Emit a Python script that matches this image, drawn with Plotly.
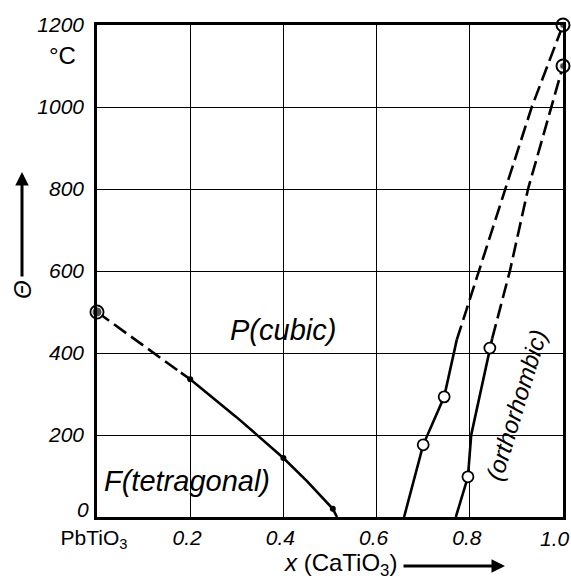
import plotly.graph_objects as go

# ---- data ----
# Curie line PbTiO3 side (F tetragonal / P cubic)
c1_dash_x = [0.0, 0.18]
c1_dash_t = [500, 352]
c1_solid_x = [0.18, 0.2, 0.3, 0.4, 0.45, 0.506, 0.515]
c1_solid_t = [352, 336, 243, 144, 88, 20, 0]
c1_pts_x = [0.2, 0.4, 0.506]
c1_pts_t = [336, 144, 20]

# left boundary of the orthorhombic two-phase region
c2_solid_x = [0.659, 0.700, 0.745, 0.764, 0.772]
c2_solid_t = [0, 176, 293, 395, 432]
c2_dash_x = [0.772, 0.820, 0.876, 0.933, 1.0]
c2_dash_t = [432, 600, 800, 1000, 1200]
c2_pts_x = [0.700, 0.745]
c2_pts_t = [176, 293]

# right boundary
c3_solid_x = [0.770, 0.796, 0.803, 0.843, 0.848]
c3_solid_t = [0, 98, 200, 412, 435]
c3_dash_x = [0.848, 0.886, 0.925, 0.975, 1.0]
c3_dash_t = [435, 600, 800, 1000, 1100]
c3_pts_x = [0.796, 0.843]
c3_pts_t = [98, 412]

# end points (pure compounds)
end_x = [0.0, 1.0, 1.0]
end_t = [500, 1200, 1100]

x_ticks = [0, 0.2, 0.4, 0.6, 0.8, 1.0]
x_ticktext = ["PbTiO<sub>3</sub>", "<i>0.2</i>", "<i>0.4</i>", "<i>0.6</i>", "<i>0.8</i>", ""]
x_last_label = "<i>1.0</i>"
y_ticks = [0, 200, 400, 600, 800, 1000, 1200]
y_ticktext = ["", "<i>200</i>", "<i>400</i>", "<i>600</i>", "<i>800</i>", "<i>1000</i>", "<i>1200</i>"]
y_zero_label = "<i>0</i>"

FONT = "Liberation Sans, Arial, sans-serif"
LW = 2.6
DASH = "15px,6px"

W, H = 571, 580
# plot area in pixels
SL, SR, ST, SB = 97, 563, 25, 517
L, T = SL, ST
R = W - SR
B = H - SB


def px(xp):
    return (xp - SL) / (SR - SL)


def py(yp):
    return (SB - yp) / (SB - ST)


fig = go.Figure()


def line(x, y, dash="solid"):
    fig.add_trace(go.Scatter(x=x, y=y, mode="lines",
                             line=dict(color="black", width=LW, dash=dash),
                             hoverinfo="skip", showlegend=False))


line(c1_dash_x, c1_dash_t, DASH)
line(c1_solid_x, c1_solid_t)
line(c2_solid_x, c2_solid_t)
line(c2_dash_x, c2_dash_t, DASH)
line(c3_solid_x, c3_solid_t)
line(c3_dash_x, c3_dash_t, DASH)

# small filled dots
fig.add_trace(go.Scatter(x=c1_pts_x, y=c1_pts_t, mode="markers",
                         marker=dict(color="black", size=6),
                         showlegend=False, hoverinfo="skip"))
# open circles
fig.add_trace(go.Scatter(x=c2_pts_x + c3_pts_x, y=c2_pts_t + c3_pts_t, mode="markers",
                         marker=dict(color="white", size=11, line=dict(color="black", width=1.8)),
                         showlegend=False, hoverinfo="skip"))
# end point: ring + dot
fig.add_trace(go.Scatter(x=end_x, y=end_t, mode="markers",
                         marker=dict(color="white", size=13, line=dict(color="black", width=2)),
                         showlegend=False, hoverinfo="skip", cliponaxis=False))
fig.add_trace(go.Scatter(x=end_x, y=end_t, mode="markers",
                         marker=dict(color="black", size=[10, 7, 7]),
                         showlegend=False, hoverinfo="skip", cliponaxis=False))

CM = dict(xanchor="center", yanchor="middle", showarrow=False)

# region labels
fig.add_annotation(x=0.40, y=456, xref="x", yref="y", text="<i>P(cubic)</i>",
                   font=dict(family=FONT, size=29, color="black"), **CM)
fig.add_annotation(x=0.193, y=88, xref="x", yref="y", text="<i>F(tetragonal)</i>",
                   font=dict(family=FONT, size=29, color="black"), **CM)
fig.add_annotation(x=0.899, y=273, xref="x", yref="y", text="<i>(orthorhombic)</i>",
                   textangle=-73, font=dict(family=FONT, size=24, color="black"), **CM)

# end tick labels placed like in the original
fig.add_annotation(x=px(83), y=py(509), xref="paper", yref="paper", text=y_zero_label,
                   font=dict(family=FONT, size=21, color="black"), **CM)
fig.add_annotation(x=px(555), y=py(538), xref="paper", yref="paper", text=x_last_label,
                   font=dict(family=FONT, size=21, color="black"), **CM)

# unit
fig.add_annotation(x=px(62), y=py(55), xref="paper", yref="paper", text="°C",
                   font=dict(family=FONT, size=24, color="black"), **CM)

# axis titles
fig.add_annotation(x=px(340), y=py(564), xref="paper", yref="paper",
                   text="<i>x</i> (CaTiO<sub>3</sub>)",
                   font=dict(family=FONT, size=24, color="black"), **CM)
fig.add_annotation(x=px(505), y=py(566), xref="paper", yref="paper",
                   ax=-103, ay=0, axref="pixel", ayref="pixel",
                   text="", showarrow=True, arrowhead=2, arrowsize=0.9,
                   arrowwidth=3, arrowcolor="black")
fig.add_annotation(x=px(22), y=py(172), xref="paper", yref="paper",
                   ax=0, ay=106, axref="pixel", ayref="pixel",
                   text="", showarrow=True, arrowhead=2, arrowsize=0.9,
                   arrowwidth=3, arrowcolor="black")
fig.add_annotation(x=px(22), y=py(290), xref="paper", yref="paper",
                   text="<i>Θ</i>", textangle=-90,
                   font=dict(family=FONT, size=24, color="black"), **CM)

fig.update_xaxes(range=[0, 1.0], tickvals=x_ticks, ticktext=x_ticktext,
                 showgrid=True, gridcolor="black", gridwidth=1,
                 showline=True, linecolor="black", linewidth=2.5, mirror=True,
                 zeroline=False, ticks="", ticklabeloverflow="allow", automargin=False,
                 ticklabelshift=-3,
                 tickfont=dict(family=FONT, size=21, color="black"))
fig.update_yaxes(range=[0, 1200], tickvals=y_ticks, ticktext=y_ticktext,
                 showgrid=True, gridcolor="black", gridwidth=1,
                 showline=True, linecolor="black", linewidth=2.5, mirror=True,
                 zeroline=False, ticks="", ticklabelstandoff=6, ticklabeloverflow="allow",
                 automargin=False,
                 tickfont=dict(family=FONT, size=21, color="black"))

fig.update_layout(width=W, height=H, margin=dict(l=L, r=R, t=T, b=B, autoexpand=False),
                  plot_bgcolor="white", paper_bgcolor="white",
                  showlegend=False)

fig.write_html("out.html", config={"displayModeBar": False},
               post_script="document.body.style.margin='0';document.body.style.overflow='hidden';")
